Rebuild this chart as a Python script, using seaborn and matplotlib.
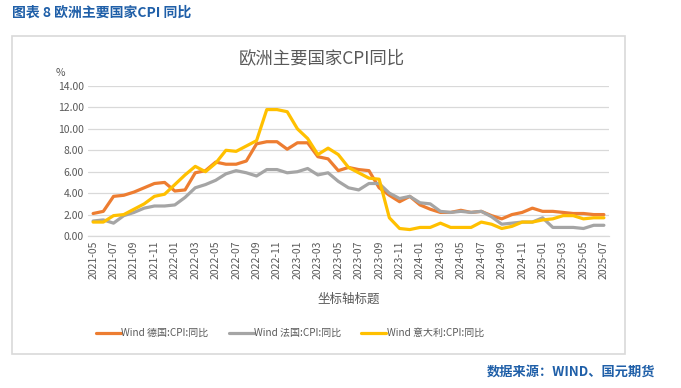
import pandas as pd
import matplotlib
matplotlib.use('Agg')
import matplotlib.pyplot as plt
import seaborn as sns
from matplotlib.patches import Rectangle

# 月份：2021-05 ~ 2025-07
months = pd.period_range('2021-05', '2025-07', freq='M').strftime('%Y-%m').tolist()

germany = [2.1, 2.3, 3.7, 3.8, 4.1, 4.5, 4.9, 5.0, 4.2, 4.3,
           5.9, 6.1, 6.9, 6.7, 6.7, 7.0, 8.6, 8.8, 8.8, 8.1,
           8.7, 8.7, 7.4, 7.2, 6.1, 6.4, 6.2, 6.1, 4.5, 3.8,
           3.2, 3.7, 2.9, 2.5, 2.2, 2.2, 2.4, 2.2, 2.3, 1.9,
           1.6, 2.0, 2.2, 2.6, 2.3, 2.3, 2.2, 2.1, 2.1, 2.0, 2.0]
france = [1.4, 1.5, 1.2, 1.9, 2.2, 2.6, 2.8, 2.8, 2.9, 3.6,
          4.5, 4.8, 5.2, 5.8, 6.1, 5.9, 5.6, 6.2, 6.2, 5.9,
          6.0, 6.3, 5.7, 5.9, 5.1, 4.5, 4.3, 4.9, 4.9, 4.0,
          3.5, 3.7, 3.1, 3.0, 2.3, 2.2, 2.3, 2.2, 2.3, 1.8,
          1.1, 1.2, 1.3, 1.3, 1.7, 0.8, 0.8, 0.8, 0.7, 1.0, 1.0]
italy = [1.3, 1.3, 1.9, 2.0, 2.5, 3.0, 3.7, 3.9, 4.8, 5.7,
         6.5, 6.0, 6.8, 8.0, 7.9, 8.4, 8.9, 11.8, 11.8, 11.6,
         10.0, 9.1, 7.6, 8.2, 7.6, 6.4, 5.9, 5.4, 5.3, 1.7,
         0.7, 0.6, 0.8, 0.8, 1.2, 0.8, 0.8, 0.8, 1.3, 1.1,
         0.7, 0.9, 1.3, 1.3, 1.5, 1.6, 1.9, 1.9, 1.6, 1.7, 1.7]

series_names = ['Wind 德国:CPI:同比', 'Wind 法国:CPI:同比', 'Wind 意大利:CPI:同比']
colors = ['#ED7D31', '#A5A5A5', '#FFC000']

df = pd.DataFrame({'idx': range(len(months)), 'month': months,
                   series_names[0]: germany, series_names[1]: france, series_names[2]: italy})
long_df = df.melt(id_vars=['idx', 'month'], var_name='series', value_name='value')

sns.set_theme(style='white')
plt.rcParams['font.family'] = ['Noto Sans CJK SC', 'DejaVu Sans']

fig = plt.figure(figsize=(6.81, 3.88), dpi=100)
ax = fig.add_axes([88 / 681, 1 - 236 / 388, 521 / 681, 150 / 388])

# 外框
fig.patches.append(Rectangle((12 / 681, 1 - 354 / 388), 613 / 681, 318 / 388,
                             transform=fig.transFigure, fill=False,
                             edgecolor='#D9D9D9', linewidth=1.2))

sns.lineplot(data=long_df, x='idx', y='value', hue='series', hue_order=series_names,
             palette=colors, linewidth=2.3, ax=ax, legend=False)

ax.set_xlim(-0.5, len(months) - 0.5)
ax.set_ylim(0, 14)
ax.set_yticks(range(0, 15, 2))
ax.set_yticklabels([f'{v:.2f}' for v in range(0, 15, 2)], fontsize=7.5, color='#595959')
ax.set_xticks(range(0, len(months), 2))
ax.set_xticklabels(months[::2], rotation=90, fontsize=7.5, color='#595959')
ax.tick_params(axis='both', length=0, pad=3)
ax.yaxis.grid(True, color='#D9D9D9', linewidth=0.9)
ax.set_axisbelow(True)
for s in ['top', 'right', 'left']:
    ax.spines[s].set_visible(False)
ax.spines['bottom'].set_color('#D9D9D9')
ax.spines['bottom'].set_linewidth(0.9)
ax.set_xlabel('坐标轴标题', fontsize=9, color='#595959', labelpad=10)
ax.set_ylabel('')

fig.text(60 / 681, 1 - 73 / 388, '%', fontsize=7.5, color='#595959', ha='center', va='center')
fig.text(322 / 681, 1 - 58 / 388, '欧洲主要国家CPI同比', fontsize=12.5, color='#595959',
         ha='center', va='center')

# 图例
handles = [plt.Line2D([], [], color=c, linewidth=2.3) for c in colors]
fig.legend(handles, series_names, loc='center', bbox_to_anchor=(290 / 681, 1 - 333 / 388),
           ncol=3, frameon=False, fontsize=7.2, labelcolor='#595959',
           handlelength=2.5, handletextpad=0.05, columnspacing=2.0)

fig.text(12 / 681, 1 - 13 / 388, '图表 8 欧洲主要国家CPI 同比', fontsize=10, color='#1F5FA8',
         fontweight='bold', ha='left', va='center')
fig.text(655 / 681, 1 - 372 / 388, '数据来源：WIND、国元期货', fontsize=9.5, color='#1F5FA8',
         fontweight='bold', ha='right', va='center')

fig.savefig('out.png', dpi=100)
